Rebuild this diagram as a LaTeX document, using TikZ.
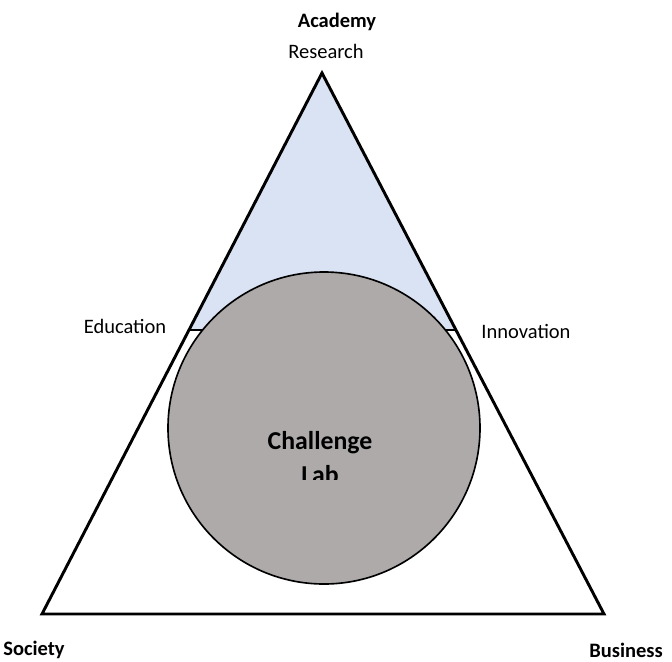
\documentclass[tikz,border=0pt]{standalone}
\usepackage{fontspec}
\setmainfont{Carlito}
\usepackage{tikz}
\usetikzlibrary{positioning}

\definecolor{topblue}{HTML}{DAE3F3}
\definecolor{labgrey}{HTML}{AEAAAA}

\begin{document}
\begin{tikzpicture}[x=0.03cm,y=-0.03cm,
  lbl/.style={font=\fontsize{17.5}{21}\selectfont, inner sep=0pt},
  blbl/.style={font=\fontsize{17.5}{21}\selectfont\bfseries, inner sep=0pt}]
\useasboundingbox (0,0) rectangle (672,661);
\coordinate (top) at (322,73);
\coordinate (sw) at (42,614);
\coordinate (se) at (604,614);
\coordinate (edl) at (189,330);
\coordinate (edr) at (456,330);

\fill[topblue] (top) -- (edl) -- (edr) -- cycle;
\draw[line width=2.5pt] (edl) -- (edr);
\draw[line width=2.5pt, line join=miter] (top) -- (sw) -- (se) -- cycle;
\draw[line width=1.4pt, fill=labgrey] (324,428) circle (156);

\begin{scope}
\clip (160,420) rectangle (480,479);
\node[blbl, font=\fontsize{22}{29}\selectfont\bfseries, align=center] (lab) at (320,458) {Challenge\\Lab};
\end{scope}

\node[blbl] (acad) at (337,22) {Academy};
\node[lbl] (res) at (326,51) {Research};
\node[lbl] (edu) at (125,326) {Education};
\node[lbl] (inno) at (526,331) {Innovation};
\node[blbl] (soc) at (34,650) {Society};
\node[blbl] (bus) at (626,650) {Business};
\end{tikzpicture}
\end{document}
